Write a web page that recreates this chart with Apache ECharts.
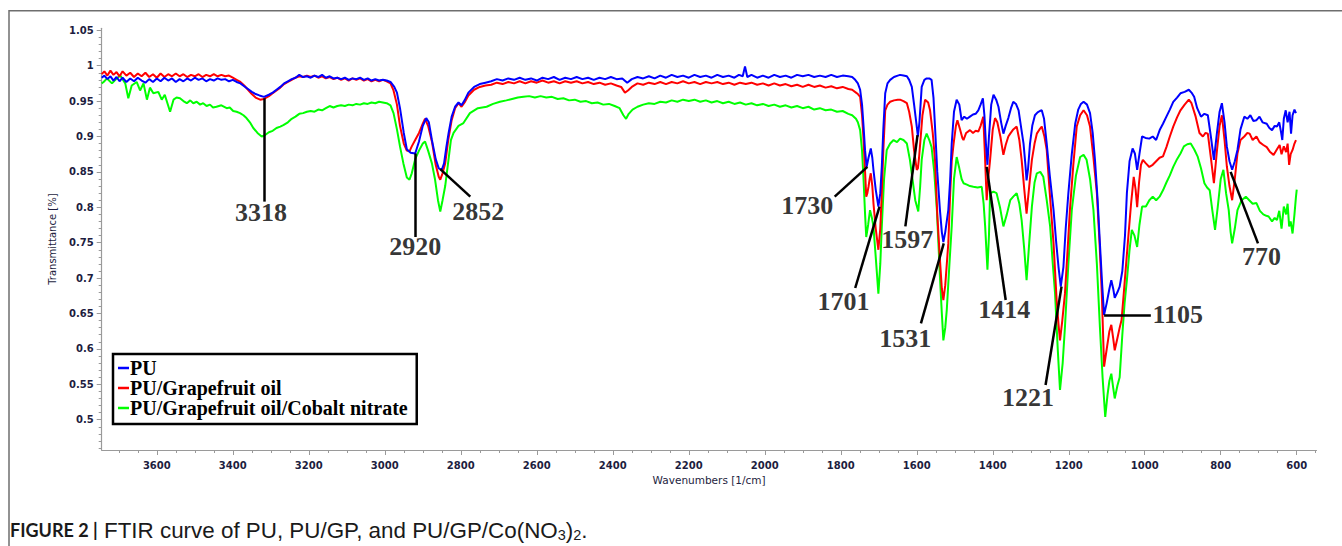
<!DOCTYPE html>
<html><head><meta charset="utf-8">
<script src="https://cdn.jsdelivr.net/npm/echarts@6/dist/echarts.min.js"></script>
<style>html,body{margin:0;padding:0;background:#fff}#c{width:1342px;height:546px}</style>
</head><body><div id="c"></div><script>
const seriesNames = ['PU', 'PU/Grapefruit oil', 'PU/Grapefruit oil/Cobalt nitrate'];
const xTickLabels = [3600, 3400, 3200, 3000, 2800, 2600, 2400, 2200, 2000, 1800, 1600, 1400, 1200, 1000, 800, 600];
const yTickLabels = [0.5, 0.55, 0.6, 0.65, 0.7, 0.75, 0.8, 0.85, 0.9, 0.95, 1, 1.05];

// PU (blue) : [wavenumber, transmittance]
const puData = [
[3745,0.983],[3738,0.986],[3730,0.981],[3722,0.985],[3714,0.979],[3706,0.984],[3698,0.978],[3690,0.983],[3680,0.977],[3670,0.982],[3660,0.978],[3650,0.983],[3640,0.979],[3630,0.976],[3620,0.981],[3610,0.977],[3600,0.982],[3590,0.978],[3580,0.983],[3570,0.979],[3560,0.982],[3550,0.977],[3540,0.981],[3530,0.978],[3520,0.982],[3510,0.979],[3500,0.983],[3490,0.98],[3480,0.982],[3470,0.978],[3460,0.981],[3450,0.979],[3440,0.982],[3430,0.98],[3420,0.981],[3410,0.978],[3400,0.98],[3390,0.977],[3380,0.975],[3370,0.971],[3360,0.967],[3350,0.963],[3340,0.96],[3330,0.958],[3318,0.956],[3305,0.959],[3295,0.962],[3285,0.966],[3275,0.97],[3265,0.975],[3255,0.978],[3245,0.981],[3235,0.983],[3225,0.987],[3215,0.984],[3205,0.985],[3195,0.983],[3185,0.986],[3175,0.984],[3165,0.987],[3155,0.983],[3145,0.985],[3135,0.982],[3125,0.983],[3115,0.981],[3105,0.983],[3095,0.98],[3085,0.982],[3075,0.981],[3065,0.983],[3055,0.98],[3045,0.982],[3035,0.979],[3025,0.981],[3015,0.979],[3005,0.98],[2995,0.979],[2985,0.977],[2975,0.97],[2968,0.962],[2960,0.94],[2950,0.905],[2942,0.882],[2932,0.877],[2920,0.876],[2910,0.893],[2900,0.915],[2891,0.926],[2884,0.92],[2876,0.895],[2866,0.868],[2858,0.855],[2850,0.853],[2844,0.862],[2838,0.885],[2832,0.905],[2824,0.928],[2815,0.942],[2806,0.948],[2798,0.944],[2790,0.951],[2780,0.962],[2765,0.97],[2750,0.974],[2735,0.976],
[2720,0.978],[2705,0.981],[2690,0.979],[2675,0.982],[2660,0.98],[2645,0.983],[2630,0.98],[2615,0.982],[2600,0.979],[2585,0.983],[2570,0.981],[2555,0.984],[2540,0.98],[2525,0.983],[2510,0.981],[2495,0.984],[2480,0.981],[2465,0.983],[2450,0.98],[2435,0.983],[2420,0.981],[2405,0.984],[2390,0.981],[2375,0.982],[2362,0.976],[2350,0.981],[2335,0.984],[2320,0.982],[2305,0.985],[2290,0.982],[2275,0.986],[2260,0.983],[2245,0.987],[2230,0.984],[2215,0.986],[2200,0.983],[2185,0.987],[2170,0.984],[2155,0.986],[2140,0.983],[2125,0.987],[2110,0.984],[2095,0.986],[2080,0.983],[2068,0.987],[2058,0.985],[2052,0.999],[2046,0.984],[2035,0.987],[2020,0.983],[2005,0.986],[1990,0.983],[1975,0.987],[1960,0.984],[1945,0.986],[1930,0.983],[1915,0.987],[1900,0.985],[1885,0.987],[1870,0.984],[1855,0.986],[1840,0.984],[1825,0.987],[1810,0.984],[1795,0.986],[1780,0.985],[1770,0.984],[1762,0.98],
[1755,0.975],[1749,0.966],[1744,0.945],[1740,0.914],[1736,0.88],[1732,0.857],[1727,0.87],[1721,0.883],[1717,0.87],[1714,0.853],[1708,0.825],[1701,0.801],[1696,0.82],[1692,0.857],[1688,0.91],[1683,0.961],[1677,0.975],[1670,0.98],[1660,0.984],[1650,0.986],[1644,0.987],[1635,0.986],[1626,0.985],[1620,0.98],[1613,0.97],[1607,0.945],[1600,0.914],[1597,0.9],[1593,0.92],[1587,0.97],[1580,0.98],[1574,0.982],[1567,0.982],[1561,0.98],[1556,0.955],[1552,0.914],[1546,0.85],[1539,0.796],[1534,0.765],[1530,0.751],[1525,0.765],[1517,0.796],[1512,0.84],[1508,0.89],[1502,0.935],[1495,0.952],[1488,0.945],[1482,0.923],[1475,0.928],[1468,0.925],[1460,0.928],[1452,0.931],[1445,0.932],[1438,0.937],[1432,0.945],[1426,0.954],[1422,0.93],[1418,0.89],[1414,0.86],[1410,0.9],[1404,0.945],[1398,0.959],[1391,0.952],[1385,0.942],[1378,0.92],[1372,0.904],[1366,0.915],[1359,0.926],[1352,0.94],[1346,0.949],[1339,0.946],[1332,0.937],[1326,0.915],[1319,0.89],[1314,0.86],[1311,0.838],[1307,0.855],[1302,0.89],[1296,0.915],[1289,0.93],[1282,0.934],[1276,0.936],[1271,0.937],[1265,0.925],[1258,0.89],[1250,0.845],[1240,0.796],[1233,0.75],[1227,0.716],[1221,0.688],[1214,0.716],[1208,0.77],[1201,0.82],[1192,0.875],[1183,0.918],[1175,0.938],[1168,0.946],[1161,0.949],[1152,0.945],[1144,0.933],[1137,0.905],[1131,0.867],[1124,0.81],[1118,0.749],[1112,0.69],[1107,0.648],[1100,0.665],[1093,0.685],[1088,0.697],[1083,0.685],[1079,0.672],[1072,0.68],[1066,0.688],[1059,0.71],[1052,0.76],[1047,0.82],[1040,0.865],[1032,0.883],[1026,0.876],[1020,0.853],[1014,0.875],[1007,0.9],[998,0.898],[988,0.897],[979,0.9],[970,0.895],[960,0.91],[952,0.918],[943,0.928],[934,0.938],[925,0.949],[915,0.955],[906,0.961],[895,0.963],[884,0.966],[877,0.962],[870,0.956],[862,0.94],[852,0.928],[843,0.932],[834,0.93],[826,0.9],[818,0.867],[810,0.905],[803,0.935],[797,0.947],[790,0.92],[784,0.886],[777,0.865],[770,0.853],[763,0.865],[756,0.881],[748,0.91],[738,0.928],[730,0.925],[722,0.93],[714,0.922],[706,0.923],[698,0.928],[690,0.92],[679,0.918],[672,0.912],[665,0.909],[658,0.915],[652,0.914],[646,0.92],[641,0.905],[638,0.895],[634,0.925],[629,0.937],[624,0.92],[619,0.935],[615,0.904],[611,0.93],[606,0.938],[602,0.933]
];

// PU/Grapefruit oil (red)
const puGpData = [
[3745,0.988],[3738,0.992],[3730,0.986],[3722,0.993],[3714,0.987],[3706,0.991],[3698,0.985],[3690,0.992],[3680,0.986],[3670,0.99],[3660,0.984],[3650,0.989],[3640,0.985],[3630,0.99],[3620,0.984],[3610,0.988],[3600,0.983],[3590,0.989],[3580,0.984],[3570,0.988],[3560,0.985],[3550,0.989],[3540,0.985],[3530,0.988],[3520,0.984],[3510,0.987],[3500,0.985],[3490,0.988],[3480,0.984],[3470,0.987],[3460,0.985],[3450,0.988],[3440,0.985],[3430,0.987],[3420,0.985],[3410,0.986],[3400,0.983],[3390,0.98],[3380,0.977],[3370,0.972],[3360,0.966],[3350,0.96],[3340,0.955],[3328,0.952],[3318,0.953],[3305,0.957],[3295,0.961],[3285,0.965],[3275,0.969],[3265,0.974],[3255,0.977],[3245,0.98],[3235,0.983],[3225,0.985],[3215,0.984],[3205,0.986],[3195,0.984],[3185,0.986],[3175,0.983],[3165,0.985],[3155,0.982],[3145,0.984],[3135,0.981],[3125,0.983],[3115,0.98],[3105,0.982],[3095,0.979],[3085,0.982],[3075,0.98],[3065,0.982],[3055,0.979],[3045,0.981],[3035,0.978],[3025,0.98],[3015,0.978],[3005,0.98],[2995,0.978],[2985,0.975],[2977,0.965],[2968,0.945],[2960,0.915],[2950,0.89],[2942,0.88],[2935,0.879],[2929,0.886],[2920,0.895],[2910,0.905],[2900,0.918],[2894,0.925],[2886,0.915],[2876,0.893],[2866,0.86],[2858,0.843],[2854,0.839],[2848,0.848],[2841,0.862],[2833,0.895],[2824,0.923],[2815,0.94],[2806,0.947],[2798,0.942],[2790,0.948],[2780,0.958],[2765,0.966],[2750,0.97],[2735,0.972],
[2720,0.973],[2705,0.976],[2690,0.974],[2675,0.977],[2660,0.975],[2645,0.978],[2630,0.975],[2615,0.978],[2600,0.976],[2585,0.979],[2570,0.976],[2555,0.978],[2540,0.975],[2525,0.978],[2510,0.976],[2495,0.978],[2480,0.975],[2465,0.977],[2450,0.974],[2435,0.976],[2420,0.973],[2405,0.975],[2390,0.972],[2378,0.97],[2368,0.962],[2360,0.965],[2350,0.97],[2335,0.975],[2320,0.973],[2305,0.976],[2290,0.974],[2275,0.977],[2260,0.974],[2245,0.977],[2230,0.975],[2215,0.978],[2200,0.975],[2185,0.977],[2170,0.974],[2155,0.977],[2140,0.975],[2125,0.977],[2110,0.974],[2095,0.976],[2080,0.973],[2065,0.976],[2050,0.974],[2035,0.976],[2020,0.973],[2005,0.975],[1990,0.972],[1975,0.975],[1960,0.972],[1945,0.974],[1930,0.971],[1915,0.973],[1900,0.97],[1885,0.973],[1870,0.97],[1855,0.972],[1840,0.969],[1825,0.971],[1810,0.968],[1795,0.97],[1780,0.967],[1770,0.966],[1760,0.962],
[1755,0.96],[1749,0.956],[1744,0.93],[1740,0.895],[1736,0.85],[1733,0.815],[1730,0.82],[1727,0.829],[1724,0.84],[1721,0.848],[1717,0.83],[1714,0.806],[1708,0.77],[1701,0.74],[1696,0.77],[1692,0.82],[1688,0.88],[1683,0.937],[1677,0.945],[1670,0.949],[1660,0.951],[1650,0.952],[1644,0.952],[1635,0.95],[1626,0.947],[1620,0.935],[1613,0.914],[1607,0.88],[1600,0.853],[1597,0.855],[1594,0.87],[1591,0.89],[1585,0.93],[1578,0.952],[1570,0.948],[1565,0.937],[1558,0.905],[1552,0.867],[1546,0.79],[1539,0.726],[1534,0.685],[1530,0.669],[1525,0.69],[1517,0.749],[1512,0.82],[1508,0.865],[1503,0.89],[1497,0.915],[1493,0.923],[1486,0.91],[1480,0.898],[1477,0.895],[1470,0.905],[1460,0.909],[1452,0.905],[1445,0.908],[1438,0.907],[1432,0.915],[1425,0.928],[1421,0.88],[1416,0.81],[1412,0.84],[1407,0.867],[1400,0.91],[1394,0.926],[1388,0.92],[1380,0.9],[1372,0.874],[1366,0.888],[1359,0.9],[1354,0.904],[1346,0.91],[1337,0.914],[1330,0.895],[1324,0.867],[1317,0.825],[1311,0.791],[1304,0.83],[1297,0.867],[1290,0.89],[1284,0.904],[1277,0.91],[1271,0.914],[1264,0.9],[1258,0.881],[1250,0.82],[1240,0.749],[1232,0.67],[1227,0.635],[1223,0.612],[1217,0.64],[1210,0.678],[1203,0.74],[1197,0.796],[1188,0.86],[1179,0.914],[1170,0.93],[1161,0.937],[1152,0.93],[1144,0.914],[1135,0.87],[1126,0.82],[1119,0.75],[1113,0.678],[1107,0.575],[1100,0.6],[1093,0.625],[1088,0.634],[1083,0.615],[1079,0.598],[1072,0.615],[1066,0.63],[1061,0.641],[1055,0.68],[1049,0.72],[1043,0.76],[1036,0.805],[1029,0.843],[1024,0.825],[1020,0.8],[1015,0.835],[1010,0.86],[1005,0.867],[997,0.862],[988,0.857],[979,0.86],[970,0.865],[961,0.87],[952,0.872],[943,0.885],[934,0.9],[925,0.914],[915,0.927],[906,0.937],[895,0.945],[884,0.952],[877,0.947],[866,0.928],[856,0.905],[847,0.9],[840,0.905],[834,0.904],[826,0.87],[818,0.834],[810,0.88],[803,0.915],[797,0.93],[790,0.895],[784,0.858],[777,0.83],[770,0.81],[763,0.84],[756,0.876],[748,0.895],[738,0.9],[730,0.905],[724,0.904],[716,0.895],[706,0.9],[698,0.892],[688,0.888],[679,0.885],[670,0.878],[661,0.874],[652,0.882],[645,0.888],[640,0.875],[634,0.886],[628,0.878],[624,0.89],[620,0.86],[616,0.875],[611,0.881],[606,0.89],[602,0.895]
];

// PU/Grapefruit oil/Cobalt nitrate (green)
const puGpCoData = [
[3745,0.975],[3740,0.977],[3731,0.982],[3718,0.975],[3709,0.98],[3696,0.986],[3683,0.975],[3675,0.954],[3666,0.972],[3653,0.977],[3644,0.965],[3635,0.975],[3626,0.952],[3618,0.969],[3609,0.961],[3596,0.963],[3587,0.952],[3579,0.959],[3565,0.935],[3556,0.952],[3548,0.955],[3539,0.954],[3530,0.95],[3521,0.947],[3512,0.951],[3504,0.947],[3495,0.949],[3486,0.945],[3478,0.947],[3469,0.943],[3460,0.945],[3452,0.941],[3443,0.942],[3430,0.944],[3416,0.94],[3408,0.941],[3399,0.936],[3390,0.935],[3381,0.933],[3372,0.93],[3364,0.926],[3355,0.92],[3346,0.912],[3335,0.905],[3324,0.9],[3315,0.902],[3305,0.906],[3295,0.908],[3285,0.912],[3275,0.914],[3267,0.916],[3255,0.92],[3245,0.925],[3235,0.928],[3225,0.932],[3215,0.933],[3205,0.935],[3195,0.936],[3185,0.935],[3175,0.938],[3165,0.937],[3155,0.94],[3145,0.943],[3135,0.941],[3125,0.943],[3115,0.944],[3105,0.943],[3095,0.945],[3085,0.944],[3075,0.946],[3065,0.945],[3055,0.947],[3045,0.946],[3035,0.948],[3025,0.947],[3015,0.949],[3005,0.948],[2995,0.947],[2985,0.944],[2977,0.933],[2968,0.91],[2960,0.886],[2951,0.862],[2942,0.842],[2935,0.839],[2929,0.848],[2920,0.868],[2910,0.88],[2900,0.89],[2894,0.893],[2886,0.88],[2876,0.862],[2868,0.84],[2860,0.81],[2854,0.794],[2848,0.81],[2841,0.83],[2834,0.86],[2826,0.895],[2819,0.905],[2806,0.915],[2793,0.919],[2776,0.933],[2755,0.94],[2732,0.942],[2715,0.946],[2697,0.949],
[2680,0.951],[2665,0.953],[2650,0.955],[2635,0.956],[2620,0.957],[2605,0.955],[2590,0.957],[2575,0.955],[2560,0.956],[2545,0.953],[2530,0.954],[2515,0.951],[2500,0.952],[2485,0.949],[2470,0.95],[2455,0.947],[2440,0.948],[2425,0.945],[2410,0.946],[2395,0.943],[2382,0.94],[2372,0.93],[2365,0.925],[2358,0.932],[2348,0.938],[2335,0.942],[2320,0.945],[2305,0.947],[2290,0.946],[2275,0.949],[2260,0.948],[2245,0.951],[2230,0.949],[2215,0.952],[2200,0.95],[2185,0.952],[2170,0.949],[2155,0.951],[2140,0.948],[2125,0.95],[2110,0.947],[2095,0.949],[2080,0.946],[2065,0.948],[2050,0.945],[2035,0.947],[2020,0.944],[2005,0.946],[1990,0.943],[1975,0.945],[1960,0.942],[1945,0.944],[1930,0.941],[1915,0.943],[1900,0.94],[1885,0.942],[1870,0.938],[1855,0.94],[1840,0.937],[1825,0.938],[1810,0.935],[1795,0.936],[1780,0.932],[1770,0.93],[1760,0.925],
[1755,0.92],[1749,0.909],[1744,0.88],[1740,0.839],[1736,0.79],[1733,0.758],[1728,0.775],[1723,0.796],[1718,0.785],[1714,0.773],[1708,0.73],[1701,0.678],[1696,0.72],[1692,0.773],[1686,0.84],[1679,0.881],[1670,0.89],[1661,0.895],[1652,0.892],[1644,0.897],[1635,0.895],[1626,0.89],[1618,0.867],[1610,0.835],[1604,0.81],[1596,0.794],[1591,0.83],[1587,0.867],[1580,0.895],[1574,0.904],[1567,0.895],[1561,0.885],[1554,0.85],[1547,0.796],[1539,0.702],[1534,0.65],[1530,0.612],[1525,0.63],[1521,0.655],[1514,0.72],[1508,0.773],[1502,0.84],[1495,0.871],[1488,0.855],[1482,0.84],[1477,0.834],[1468,0.832],[1460,0.83],[1451,0.829],[1440,0.828],[1429,0.829],[1424,0.805],[1420,0.773],[1414,0.712],[1410,0.76],[1407,0.82],[1398,0.822],[1390,0.82],[1381,0.8],[1372,0.773],[1363,0.79],[1354,0.81],[1346,0.815],[1337,0.82],[1330,0.805],[1324,0.782],[1317,0.74],[1311,0.697],[1304,0.75],[1297,0.801],[1290,0.835],[1284,0.848],[1275,0.85],[1267,0.843],[1258,0.81],[1249,0.773],[1242,0.72],[1236,0.678],[1229,0.6],[1223,0.542],[1216,0.58],[1210,0.631],[1201,0.72],[1192,0.796],[1181,0.845],[1170,0.871],[1161,0.874],[1153,0.867],[1144,0.84],[1135,0.796],[1126,0.72],[1118,0.631],[1111,0.56],[1104,0.504],[1098,0.535],[1093,0.555],[1088,0.565],[1083,0.545],[1079,0.53],[1072,0.548],[1066,0.56],[1059,0.62],[1053,0.665],[1047,0.697],[1040,0.74],[1034,0.768],[1027,0.76],[1020,0.744],[1014,0.775],[1007,0.801],[997,0.801],[988,0.81],[979,0.815],[970,0.81],[961,0.815],[952,0.824],[943,0.835],[934,0.845],[925,0.857],[915,0.868],[906,0.876],[897,0.886],[888,0.889],[879,0.89],[870,0.882],[861,0.872],[852,0.855],[843,0.834],[836,0.828],[829,0.824],[822,0.795],[815,0.768],[808,0.8],[800,0.84],[793,0.853],[786,0.82],[779,0.796],[774,0.765],[770,0.749],[763,0.77],[756,0.796],[745,0.81],[734,0.815],[725,0.81],[716,0.805],[706,0.806],[697,0.795],[688,0.79],[680,0.788],[674,0.787],[665,0.78],[658,0.785],[652,0.782],[646,0.795],[640,0.77],[634,0.801],[628,0.79],[624,0.805],[620,0.773],[616,0.78],[611,0.763],[606,0.79],[602,0.815],[600,0.825]
];

// Peak annotations: label, leader line (from curve to label), label anchor, in data units
const peakLabels = ['3318','2920','2852','1730','1701','1597','1531','1414','1221','1105','770'];
const peakLineFrom = [[3318,0.954],[2920,0.876],[2854,0.854],[1730,0.857],[1698,0.801],[1598,0.902],[1529,0.749],[1416,0.857],[1219,0.688],[1107,0.648],[774,0.85]];
const peakLineTo   = [[3318,0.808],[2920,0.758],[2775,0.815],[1816,0.815],[1762,0.686],[1630,0.773],[1589,0.636],[1366,0.669],[1261,0.549],[984,0.648],[702,0.749]];
const peakLabelAt  = [[3326,0.793],[2920,0.744],[2754,0.794],[1888,0.803],[1793,0.667],[1625,0.754],[1630,0.615],[1370,0.655],[1307,0.532],[913,0.648],[693,0.730]];

const xMinorTicks = []; for (let w = 3700; w >= 550; w -= 50) xMinorTicks.push(w);
const yMinorTicks = []; for (let k = 46; k <= 105; k++) yMinorTicks.push(+(k / 100).toFixed(2));

const X_MIN = 548, X_MAX = 3745, Y_MIN = 0.4572, Y_MAX = 1.0528;
const labelColor = '#1d1d40';
const axisGray = '#9a9a9a';

const chart = echarts.init(document.getElementById('c'), null, {renderer: 'svg'});
const baseX = {type: 'value', inverse: true, min: X_MIN, max: X_MAX, splitLine: {show: false}};
const baseY = {type: 'value', min: Y_MIN, max: Y_MAX, splitLine: {show: false}};
chart.setOption({
  animation: false,
  backgroundColor: '#fff',
  grid: {left: 101.7, right: 25.5, top: 28.3, bottom: 96, containLabel: false},
  xAxis: [
    Object.assign({}, baseX, {
      position: 'bottom',
      name: 'Wavenumbers [1/cm]', nameLocation: 'middle', nameGap: 21,
      nameTextStyle: {fontFamily: 'DejaVu Sans', fontSize: 10.5, color: labelColor},
      axisLine: {show: true, lineStyle: {color: axisGray, width: 1.2}},
      axisTick: {show: true, customValues: xMinorTicks, length: 3, lineStyle: {color: axisGray}},
      axisLabel: {customValues: xTickLabels, margin: 10, fontFamily: 'DejaVu Sans', fontWeight: 'bold', fontSize: 10, color: labelColor,
                  formatter: v => String(Math.round(v))}
    }),
    Object.assign({}, baseX, {
      position: 'bottom',
      axisLine: {show: false},
      axisTick: {show: true, customValues: xTickLabels, length: 5, lineStyle: {color: axisGray}},
      axisLabel: {show: false}
    })
  ],
  yAxis: [
    Object.assign({}, baseY, {
      position: 'left',
      name: 'Transmittance [%]', nameLocation: 'middle', nameGap: 44, nameRotate: 90,
      nameTextStyle: {fontFamily: 'DejaVu Sans', fontSize: 10, color: labelColor},
      axisLine: {show: true, lineStyle: {color: axisGray, width: 1.2}},
      axisTick: {show: true, customValues: yMinorTicks, length: 3, lineStyle: {color: axisGray}},
      axisLabel: {customValues: yTickLabels, margin: 8, fontFamily: 'DejaVu Sans', fontWeight: 'bold', fontSize: 10, color: labelColor,
                  formatter: v => String(+v.toFixed(2))}
    }),
    Object.assign({}, baseY, {
      position: 'left',
      axisLine: {show: false},
      axisTick: {show: true, customValues: yTickLabels, length: 5, lineStyle: {color: axisGray}},
      axisLabel: {show: false}
    })
  ],
  legend: {
    data: seriesNames,
    orient: 'vertical', left: 113, top: 354,
    backgroundColor: '#fff',
    borderColor: '#000', borderWidth: 2.5, borderRadius: 0,
    padding: [4, 9, 6, 5],
    itemGap: 0, itemWidth: 11, itemHeight: 2.5,
    icon: 'rect',
    textStyle: {fontFamily: 'Liberation Serif', fontWeight: 'bold', fontSize: 20, color: '#000', lineHeight: 17, padding: [0, 0, 0, -4]}
  },
  graphic: [
    {type: 'line', silent: true, shape: {x1: 9, y1: 10.7, x2: 1342, y2: 10.7}, style: {stroke: '#6e6e6e', lineWidth: 1.5}},
    {type: 'line', silent: true, shape: {x1: 9, y1: 10, x2: 9, y2: 546}, style: {stroke: '#6e6e6e', lineWidth: 1.5}},
    {type: 'text', left: 10, top: 518, silent: true, style: {
      text: '{b|FIGURE 2 |} FTIR curve of PU, PU/GP, and PU/GP/Co(NO{s|3}){s|2}.',
      fontFamily: 'Liberation Sans', fontSize: 22.4, fill: '#1a1a1a', lineHeight: 24,
      rich: {b: {fontWeight: 'bold', fontFamily: 'Lato', fontSize: 18, fill: '#1a1a1a', lineHeight: 24},
             s: {fontSize: 14.5, fontFamily: 'Liberation Sans', fill: '#1a1a1a', lineHeight: 13, verticalAlign: 'bottom'}}
    }}
  ],
  series: [
    {name: seriesNames[2], type: 'line', data: puGpCoData, showSymbol: false, symbol: 'none', lineStyle: {color: '#00ff00', width: 2}, itemStyle: {color: '#00ff00'}, z: 2},
    {name: seriesNames[1], type: 'line', data: puGpData, showSymbol: false, symbol: 'none', lineStyle: {color: '#ff0000', width: 2}, itemStyle: {color: '#ff0000'}, z: 2},
    {name: seriesNames[0], type: 'line', data: puData, showSymbol: false, symbol: 'none', lineStyle: {color: '#0000ff', width: 2}, itemStyle: {color: '#0000ff'}, z: 2,
     markLine: {silent: true, symbol: 'none', animation: false, label: {show: false},
       lineStyle: {color: '#000', width: 2.5, type: 'solid'},
       emphasis: {disabled: true},
       data: peakLineFrom.map((p, i) => [{coord: p}, {coord: peakLineTo[i]}])}},
    {name: 'peaks', type: 'scatter', symbolSize: 0, silent: true, z: 5, itemStyle: {color: '#000'},
     data: peakLabels.map((t, i) => ({name: t, value: peakLabelAt[i]})),
     label: {show: true, position: 'inside', formatter: '{b}', fontFamily: 'Liberation Serif', fontWeight: 'bold', fontSize: 26, color: '#000', textBorderWidth: 0}}
  ]
});
</script></body></html>
